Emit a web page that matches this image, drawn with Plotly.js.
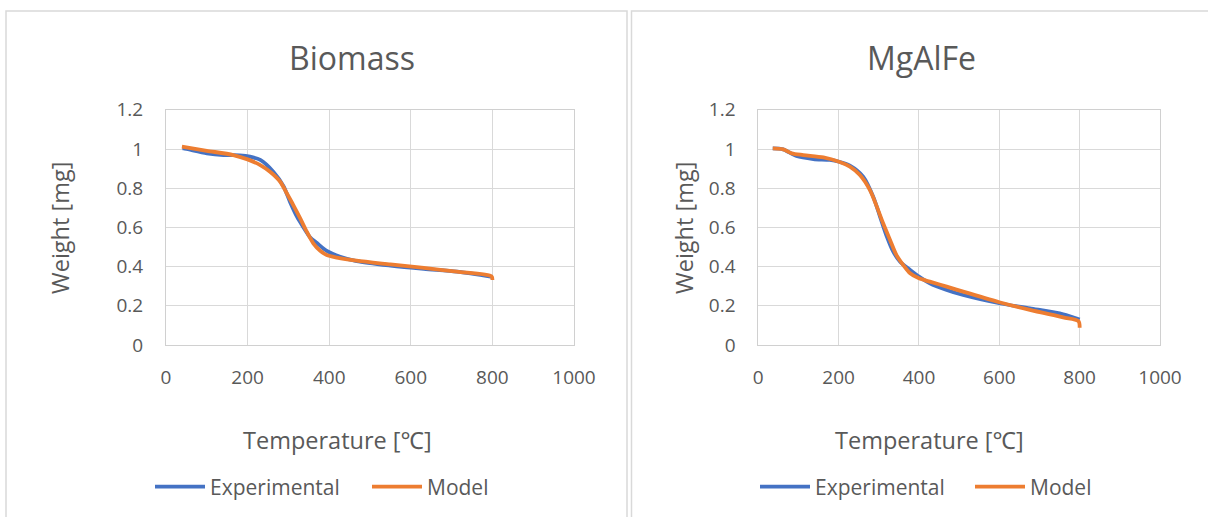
<!DOCTYPE html>
<html>
<head>
<meta charset="utf-8">
<script src="https://cdn.plot.ly/plotly-3.0.1.min.js"></script>
<style>html,body{margin:0;padding:0;background:#fff;}#chart{width:1208px;height:517px;}</style>
</head>
<body>
<div id="chart"></div>
<script>
// Biomass panel
const bioExpT = [40, 43, 100, 141, 181, 206, 231, 263, 288, 304, 321, 337, 353, 370, 394, 427, 467, 550, 632, 713, 800];
const bioExpW = [1.003, 1.003, 0.978, 0.969, 0.968, 0.961, 0.944, 0.884, 0.81, 0.73, 0.655, 0.60, 0.55, 0.52, 0.48, 0.45, 0.428, 0.405, 0.388, 0.374, 0.347];
const bioModT = [39, 100, 165, 200, 231, 255, 280, 296, 312, 329, 345, 361, 378, 394, 419, 467, 550, 632, 713, 798, 800];
const bioModW = [1.012, 0.991, 0.969, 0.947, 0.918, 0.884, 0.833, 0.774, 0.714, 0.646, 0.578, 0.519, 0.481, 0.459, 0.446, 0.43, 0.411, 0.393, 0.374, 0.350, 0.332];
// MgAlFe panel
const mgExpT = [36, 62, 95, 137, 178, 201, 228, 261, 286, 303, 320, 336, 353, 378, 400, 427, 469, 510, 600, 676, 759, 800];
const mgExpW = [1.003, 0.998, 0.964, 0.949, 0.944, 0.935, 0.915, 0.859, 0.757, 0.655, 0.553, 0.476, 0.425, 0.383, 0.349, 0.315, 0.281, 0.255, 0.213, 0.187, 0.157, 0.13];
const mgModT = [36, 62, 83, 112, 162, 201, 228, 253, 278, 295, 311, 328, 344, 361, 378, 400, 427, 469, 510, 600, 676, 759, 797, 800];
const mgModW = [1.003, 0.998, 0.978, 0.969, 0.957, 0.935, 0.91, 0.867, 0.79, 0.706, 0.62, 0.536, 0.459, 0.408, 0.366, 0.34, 0.323, 0.298, 0.272, 0.218, 0.179, 0.141, 0.122, 0.088];

const panelTitles = ["Biomass", "MgAlFe"];
const seriesNames = ["Experimental", "Model"];
const xTitle = "Temperature [℃]";
const yTitle = "Weight [mg]";
const xTicks = [0, 200, 400, 600, 800, 1000];
const yTicks = [0, 0.2, 0.4, 0.6, 0.8, 1, 1.2];

const BLUE = "#4472C4", ORANGE = "#ED7D31", TXT = "#595959", GRID = "#D9D9D9";
const FONT = "Open Sans, Noto Sans, sans-serif";

function tr(x, y, name, color, xa, ya, leg, show) {
  return {x: x, y: y, name: name, type: "scatter", mode: "lines",
    line: {color: color, width: 3.8, shape: "spline", smoothing: 0.8},
    xaxis: xa, yaxis: ya, legend: leg, showlegend: show, hoverinfo: "skip"};
}
const data = [
  tr(bioExpT, bioExpW, seriesNames[0], BLUE, "x", "y", "legend", true),
  tr(bioModT, bioModW, seriesNames[1], ORANGE, "x", "y", "legend", true),
  tr(mgExpT, mgExpW, seriesNames[0], BLUE, "x2", "y2", "legend2", true),
  tr(mgModT, mgModW, seriesNames[1], ORANGE, "x2", "y2", "legend2", true)
];

function xax(dom, anchor) {
  return {domain: dom, anchor: anchor, range: [0, 1000], tickvals: xTicks, ticktext: xTicks.map(String),
    showgrid: true, gridcolor: GRID, gridwidth: 1, zeroline: false, showline: true, linecolor: "#D0D0D0",
    mirror: true, ticks: "", ticklabelstandoff: 15, tickfont: {family: FONT, size: 19, color: TXT}, fixedrange: true};
}
function yax(dom, anchor) {
  return {domain: dom, anchor: anchor, range: [0, 1.2], tickvals: yTicks, ticktext: yTicks.map(String),
    showgrid: true, gridcolor: GRID, gridwidth: 1, zeroline: false, showline: true, linecolor: "#D0D0D0",
    mirror: true, ticks: "", ticklabelstandoff: 18, tickfont: {family: FONT, size: 19, color: TXT}, fixedrange: true};
}
const yDom = [1 - 345 / 517, 1 - 109.8 / 517];
const W = 1208, H = 517;
function ann(text, px, py, size, angle) {
  return {text: text, x: px / W, y: 1 - py / H, xref: "paper", yref: "paper", showarrow: false,
    xanchor: "center", yanchor: "middle", textangle: angle || 0, font: {family: FONT, size: size, color: TXT}};
}
const layout = {
  width: W, height: H, margin: {l: 0, r: 0, t: 0, b: 0},
  paper_bgcolor: "#ffffff", plot_bgcolor: "#ffffff",
  xaxis: xax([166 / W, 574 / W], "y"),
  yaxis: yax(yDom, "x"),
  xaxis2: xax([758.3 / W, 1160 / W], "y2"),
  yaxis2: yax(yDom, "x2"),
  legend: {orientation: "h", x: 150 / W, y: 1 - 487 / H, xanchor: "left", yanchor: "middle", itemwidth: 50,
    font: {family: FONT, size: 21, color: TXT}, entrywidth: 152, bgcolor: "rgba(0,0,0,0)"},
  legend2: {orientation: "h", x: 755 / W, y: 1 - 487 / H, xanchor: "left", yanchor: "middle", itemwidth: 50,
    font: {family: FONT, size: 21, color: TXT}, entrywidth: 150, bgcolor: "rgba(0,0,0,0)"},
  annotations: [
    ann(panelTitles[0], 352, 57, 32),
    ann(panelTitles[1], 921, 57, 32),
    ann(xTitle, 337, 440, 23.5),
    ann(xTitle, 929, 440, 23.5),
    ann(yTitle, 60, 228, 23.5, -90),
    ann(yTitle, 684, 228, 23.5, -90)
  ],
  shapes: [
    {type: "rect", xref: "paper", yref: "paper", x0: 6 / W, x1: 627 / W, y0: -0.05, y1: 1 - 11 / H,
      line: {color: GRID, width: 1.5}},
    {type: "rect", xref: "paper", yref: "paper", x0: 631.5 / W, x1: 1.05, y0: -0.05, y1: 1 - 11 / H,
      line: {color: GRID, width: 1.5}}
  ]
};
Plotly.newPlot("chart", data, layout, {staticPlot: true, displayModeBar: false});
</script>
</body>
</html>
